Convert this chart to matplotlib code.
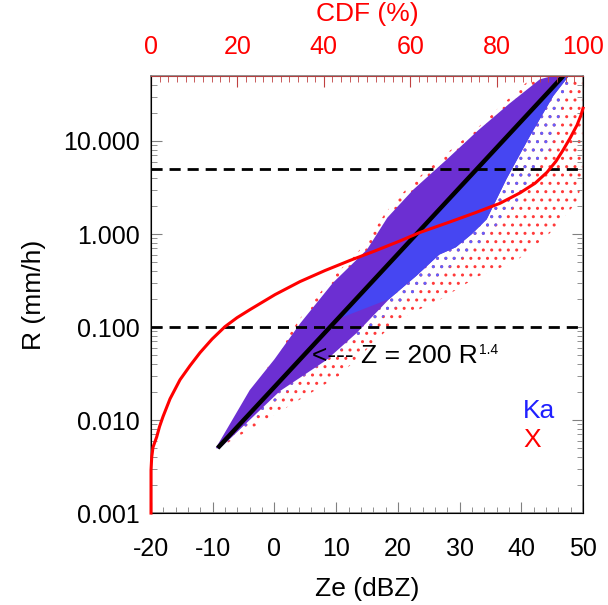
import matplotlib
matplotlib.use("Agg")
import matplotlib.pyplot as plt

plt.rcParams['font.family'] = ['Liberation Sans', 'DejaVu Sans']
plt.rcParams['mathtext.default'] = 'regular'
plt.rcParams['axes.unicode_minus'] = False
plt.rcParams['hatch.linewidth'] = 1.0

# dense Ka/X cloud envelope (Ze in dBZ, R in mm/h)
core_up_ze = [-9.5, -4.0, 0.0, 4.2, 9.5, 15.0, 18.3, 22.5, 28.0, 33.0, 38.0, 43.0, 45.0]
core_up_r = [0.005, 0.021, 0.045, 0.11, 0.30, 0.68, 1.5, 3.0, 6.4, 13.0, 25.0, 46.0, 50.0]
core_lo_ze = [-8.9, 0.9, 8.4, 13.3, 18.6, 23.0, 26.7, 29.4, 32.0, 34.4, 37.6, 41.4, 45.2, 47.7]
core_lo_r = [0.0049, 0.0205, 0.044, 0.086, 0.2, 0.355, 0.6, 0.72, 1.0, 1.44, 3.9, 11.3, 30.6, 50.0]

# bluish part of the core (right of the Z-R line)
blue_up_ze = [10.0, 20.0, 30.0, 40.0, 46.5]
blue_up_r = [0.12, 0.6, 3.2, 16.0, 50.0]

# sparse X outliers envelope
xs_up_ze = [-9.5, 0.0, 4.0, 9.0, 14.5, 18.0, 22.0, 27.5, 33.0, 37.0, 42.0, 50.0]
xs_up_r = [0.005, 0.048, 0.12, 0.32, 0.75, 1.7, 3.4, 7.0, 14.0, 25.0, 50.0, 50.0]
xs_lo_ze = [-9.0, 5.0, 10.5, 20.0, 27.0, 33.0, 39.0, 44.5, 49.0, 50.0]
xs_lo_r = [0.005, 0.018, 0.03, 0.12, 0.2, 0.35, 0.5, 1.0, 2.2, 4.0]

# sparse Ka outliers envelope
ks_lo_ze = [-8.9, 5.0, 12.0, 20.0, 26.0, 33.0, 40.0, 45.0, 48.0]
ks_lo_r = [0.0049, 0.03, 0.065, 0.17, 0.33, 0.75, 2.4, 9.0, 50.0]

# Z = 200 R^1.4
zr_ze = [-9.2, 46.8]
zr_r = [0.005, 50.0]

# CDF of R
cdf_pct = [0, 0, 0.16, 0.46, 1.32, 1.97, 2.78, 4.40, 6.71, 9.03, 11.34, 14.12,
           17.13, 19.91, 22.92, 28.70, 34.49, 40.28, 46.06, 51.85, 57.64, 62.27,
           69.21, 75.0, 80.79, 85.42, 88.89, 91.67, 93.75, 95.37, 96.99, 98.61,
           99.54, 100]
cdf_r = [0.001, 0.0029, 0.0040, 0.0051, 0.0066, 0.0085, 0.0109, 0.0169, 0.0271,
         0.0384, 0.053, 0.0741, 0.101, 0.126, 0.154, 0.223, 0.308, 0.405, 0.520,
         0.658, 0.843, 1.04, 1.35, 1.69, 2.14, 2.77, 3.51, 4.61, 6.06, 7.96,
         10.7, 14.8, 19.0, 22.5]

thresholds = [0.1, 5.0]

fig = plt.figure(figsize=(6.08, 6.05), dpi=100)
ax = fig.add_axes([0.2484, 0.152, 0.7105, 0.7224])

ax.fill(xs_up_ze + xs_lo_ze[::-1], xs_up_r + xs_lo_r[::-1],
        facecolor='none', edgecolor='#ff3a3a', hatch='..', linewidth=0)
ax.fill(core_lo_ze + ks_lo_ze[::-1], core_lo_r + ks_lo_r[::-1],
        facecolor='none', edgecolor='#6060ff', hatch='..', linewidth=0)
ax.fill(core_up_ze + core_lo_ze[::-1], core_up_r + core_lo_r[::-1],
        color='#6c2fd2', linewidth=0)
ax.fill(blue_up_ze + core_lo_ze[::-1][:10], blue_up_r + core_lo_r[::-1][:10],
        color='#4646f2', linewidth=0)

ax.plot(zr_ze, zr_r, color='black', lw=3.2, solid_capstyle='butt')
for t in thresholds:
    ax.axhline(t, color='black', lw=2, ls=(0, (4, 2.5)))

t = ax.text(6.05, 0.0483, '<--- Z = 200 R', fontsize=19, va='center', ha='left')
ax.annotate('1.4', xy=(1, 1), xycoords=t, xytext=(1, 1), textcoords='offset points',
            fontsize=10, va='top', ha='left')
ax.text(40.3, 0.0124, 'Ka', color='#2020ff', fontsize=19, va='center', ha='left')
ax.text(40.3, 0.0061, 'X', color='#ff0000', fontsize=19, va='center', ha='left')

ax.set_xlim(-20, 50)
ax.set_yscale('log')
ax.set_ylim(0.001, 50)
ax.set_xticks(range(-20, 51, 10))
ax.set_xticks(range(-20, 51, 2), minor=True)
ax.set_yticks([0.001, 0.01, 0.1, 1, 10])
ax.set_yticklabels(['0.001', '0.010', '0.100', '1.000', '10.000'])
ax.tick_params(which='both', direction='in', top=False, right=True, labelsize=18,
               color='#808080')
ax.tick_params(axis='x', which='both', pad=17)
ax.tick_params(axis='y', which='both', pad=8)
ax.tick_params(which='major', length=8)
ax.tick_params(which='minor', length=4)
ax.set_xlabel('Ze (dBZ)', fontsize=19, labelpad=12)
ax.set_ylabel('R (mm/h)', fontsize=19, labelpad=12)
for s in ax.spines.values():
    s.set_color('#808080')
    s.set_linewidth(1.2)

ax2 = ax.twiny()
ax2.plot(cdf_pct, cdf_r, color='#ff0000', lw=2.2, clip_on=False, zorder=5)
ax2.set_xlim(0, 100)
ax2.set_xticks(range(0, 101, 20))
ax2.set_xticks(range(0, 101, 2), minor=True)
ax2.tick_params(which='both', direction='in', colors='#ff0000', labelsize=18, pad=12)
ax2.tick_params(which='major', length=8, color='#c04040')
ax2.tick_params(which='minor', length=4, color='#c04040')
ax2.set_xlabel('CDF (%)', fontsize=19, color='#ff0000', labelpad=10)
ax2.spines['top'].set_color('#b04040')

fig.savefig('out.png', dpi=100)
